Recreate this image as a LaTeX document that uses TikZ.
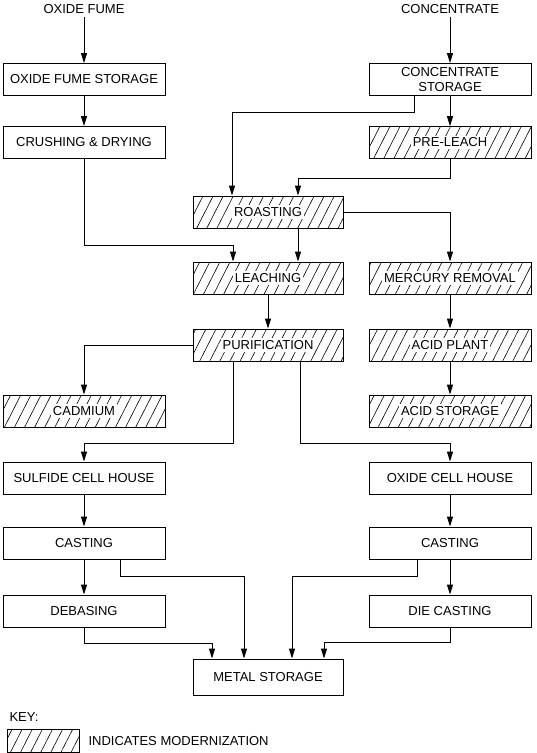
\documentclass[tikz,border=0pt]{standalone}
\usepackage{fontspec}
\setmainfont{Liberation Sans}
\usetikzlibrary{arrows.meta,patterns.meta,positioning}

\newcommand\modtext[1]{{\setlength\fboxsep{2pt}\colorbox{white}{#1}}}
\tikzset{
  box/.style={draw, line width=0.9pt, minimum width=162pt, minimum height=32pt, inner sep=1pt, align=center},
  midbox/.style={box, minimum width=150pt},
  hatch/.style={pattern={Lines[angle=63,distance=9pt,line width=0.6pt]}},
  arr/.style={line width=0.9pt, -{Triangle[length=10pt,width=6pt]}},
}

\begin{document}
\begin{tikzpicture}[x=1pt,y=-1pt,font=\fontsize{13}{15}\selectfont]
  \useasboundingbox (0,0) rectangle (537,753); % same frame as the scan
  % feeds
  \node (fume) at (84,9) {OXIDE FUME};
  \node (conc) at (450,9) {CONCENTRATE};
  \node[box] (fumest) at (84,79.5) {OXIDE FUME STORAGE};
  \node[box] (concst) at (450,79.5) {CONCENTRATE\\STORAGE};
  \node[box] (crush) at (84,142.5) {CRUSHING \& DRYING};
  \node[box,hatch] (prel) at (450,142.5) {\modtext{PRE-LEACH}};
  % hydrometallurgy
  \node[midbox,hatch] (roast) at (268,212) {\modtext{ROASTING}};
  \node[midbox,hatch] (leach) at (268,278) {\modtext{LEACHING}};
  \node[box,hatch] (merc) at (450,278) {\modtext{MERCURY REMOVAL}};
  \node[midbox,hatch] (puri) at (268,345) {\modtext{PURIFICATION}};
  \node[box,hatch] (acid) at (450,345) {\modtext{ACID PLANT}};
  \node[box,hatch] (cad) at (84,411) {\modtext{CADMIUM}};
  \node[box,hatch] (acidst) at (450,411) {\modtext{ACID STORAGE}};
  % cell houses and casting
  \node[box] (sulf) at (84,478) {SULFIDE CELL HOUSE};
  \node[box] (oxch) at (450,478) {OXIDE CELL HOUSE};
  \node[box] (castl) at (84,543) {CASTING};
  \node[box] (castr) at (450,543) {CASTING};
  \node[box] (deb) at (84,611) {DEBASING};
  \node[box] (die) at (450,611) {DIE CASTING};
  \node[midbox,minimum height=36pt] (metal) at (268,677) {METAL STORAGE};

  \draw[arr] (fume) -- (fumest);
  \draw[arr] (fumest) -- (crush);
  \draw[arr] (crush.south) -- ++(0,86.5) -| ([xshift=-35pt]leach.north);
  \draw[arr] (conc) -- (concst);
  \draw[arr] ([xshift=-36pt]concst.south) -- ++(0,16.5) -| ([xshift=-36pt]roast.north);
  \draw[arr] (concst) -- (prel);
  \draw[arr] (prel.south) -- ++(0,19.5) -| ([xshift=30pt]roast.north);
  \draw[arr] (roast.east) -| (merc.north);
  \draw[arr] ([xshift=30pt]roast.south) -- ([xshift=30pt]leach.north);
  \draw[arr] (leach) -- (puri);
  \draw[arr] (puri.west) -| (cad.north);
  \draw[arr] ([xshift=-35pt]puri.south) -- ++(0,82) -| (sulf.north);
  \draw[arr] ([xshift=32pt]puri.south) -- ++(0,82) -| (oxch.north);
  \draw[arr] (merc) -- (acid);
  \draw[arr] (acid) -- (acidst);
  \draw[arr] (sulf) -- (castl);
  \draw[arr] (castl) -- (deb);
  \draw[arr] (oxch) -- (castr);
  \draw[arr] (castr) -- (die);
  \draw[arr] ([xshift=36pt]castl.south) -- ++(0,17) -| ([xshift=-24pt]metal.north);
  \draw[arr] (deb.south) -- ++(0,16) -| ([xshift=-56pt]metal.north);
  \draw[arr] ([xshift=-33pt]castr.south) -- ++(0,17) -| ([xshift=24pt]metal.north);
  \draw[arr] (die.south) -- ++(0,15) -| ([xshift=56pt]metal.north);

  % key
  \node[anchor=west] (key) at (6,717) {KEY:};
  \node[draw,line width=0.9pt,hatch,minimum width=72pt,minimum height=23pt,anchor=north west] (keybox) at (7,729) {};
  \node[anchor=west] (keytxt) at (85,741) {INDICATES MODERNIZATION};
\end{tikzpicture}
\end{document}
